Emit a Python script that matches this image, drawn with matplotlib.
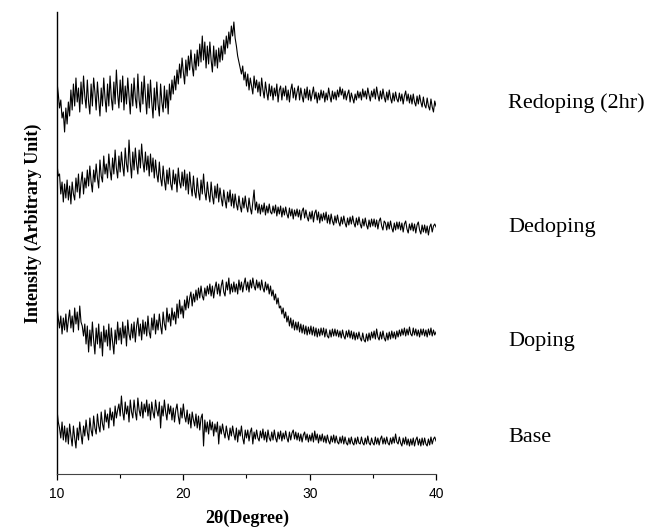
import numpy as np
import matplotlib
matplotlib.use("Agg")
import matplotlib.pyplot as plt
from matplotlib.ticker import MultipleLocator

# 2-theta grid (0.1 degree steps, 10..40)
two_theta = np.linspace(10, 40, 301)

labels = ["Redoping (2hr)", "Dedoping", "Doping", "Base"]

# intensities (arbitrary units, traces already offset as in the figure)
redoping = [
    392, 380, 366, 374, 356, 362, 342, 366, 350, 372,
    358, 384, 364, 390, 368, 396, 372, 386, 362, 392,
    370, 398, 378, 366, 394, 372, 360, 390, 368, 396,
    382, 364, 392, 374, 358, 386, 368, 396, 376, 362,
    390, 368, 398, 376, 364, 392, 370, 404, 380, 366,
    394, 372, 398, 364, 388, 370, 396, 378, 360, 390,
    368, 396, 376, 366, 400, 374, 362, 392, 370, 398,
    378, 360, 390, 366, 394, 372, 356, 386, 364, 392,
    370, 358, 390, 372, 362, 388, 366, 384, 360, 390,
    374, 394, 380, 398, 384, 404, 390, 410, 396, 416,
    402, 390, 414, 398, 418, 404, 424, 408, 398, 420,
    404, 424, 408, 430, 412, 438, 414, 432, 406, 428,
    410, 432, 414, 402, 428, 408, 424, 406, 426, 412,
    428, 414, 434, 420, 438, 426, 442, 430, 448, 438,
    452, 436, 428, 418, 412, 406, 400, 408, 394, 402,
    388, 400, 384, 396, 388, 380, 398, 386, 394, 382,
    392, 378, 396, 384, 376, 392, 382, 374, 390, 378,
    388, 374, 386, 378, 390, 372, 384, 388, 374, 386,
    378, 388, 374, 384, 372, 384, 390, 376, 386, 374,
    382, 388, 374, 386, 378, 372, 385, 376, 387, 374,
    384, 373, 380, 387, 375, 382, 371, 381, 374, 384,
    376, 383, 372, 381, 374, 386, 378, 372, 383, 375,
    382, 374, 384, 377, 387, 379, 385, 375, 383, 374,
    380, 384, 372, 381, 376, 371, 380, 374, 383, 376,
    382, 374, 385, 377, 383, 375, 386, 379, 373, 383,
    377, 385, 375, 387, 379, 373, 383, 375, 385, 377,
    372, 382, 374, 384, 376, 371, 381, 373, 382, 375,
    372, 381, 373, 380, 370, 378, 383, 373, 380, 371,
    379, 370, 380, 372, 368, 378, 370, 379, 372, 367,
    377, 369, 366, 376, 368, 364, 375, 367, 362, 373,
    368,
]

dedoping = [
    310, 298, 300, 280, 292, 272, 290, 276, 294, 274,
    288, 270, 292, 280, 274, 296, 282, 300, 276, 292,
    302, 280, 296, 286, 304, 288, 308, 292, 282, 304,
    292, 310, 296, 286, 314, 298, 292, 318, 300, 310,
    296, 320, 304, 294, 316, 300, 324, 306, 296, 318,
    302, 322, 308, 298, 326, 310, 302, 334, 312, 296,
    322, 304, 326, 310, 300, 324, 306, 330, 312, 302,
    322, 304, 318, 298, 320, 302, 316, 296, 314, 300,
    292, 312, 296, 288, 308, 294, 284, 304, 290, 306,
    290, 284, 304, 290, 300, 282, 306, 292, 286, 302,
    288, 304, 284, 300, 280, 302, 288, 278, 298, 282,
    276, 296, 282, 274, 294, 280, 300, 282, 274, 292,
    280, 272, 292, 278, 270, 288, 276, 290, 272, 286,
    276, 268, 284, 274, 266, 282, 272, 284, 268, 280,
    266, 280, 270, 264, 278, 268, 262, 276, 266, 278,
    268, 262, 276, 266, 260, 272, 284, 264, 272, 261,
    270, 260, 269, 262, 271, 259, 268, 261, 270, 262,
    260, 268, 261, 269, 258, 267, 260, 268, 257, 266,
    259, 267, 260, 256, 266, 258, 265, 255, 264, 258,
    265, 257, 264, 254, 263, 266, 256, 264, 257, 253,
    262, 255, 263, 252, 261, 264, 254, 262, 251, 260,
    253, 261, 254, 262, 251, 259, 250, 260, 253, 249,
    258, 251, 259, 252, 248, 257, 250, 258, 251, 247,
    256, 249, 257, 250, 258, 251, 247, 256, 249, 257,
    250, 246, 255, 248, 256, 249, 245, 254, 247, 255,
    248, 255, 247, 254, 245, 253, 256, 248, 244, 253,
    251, 244, 252, 245, 253, 246, 242, 251, 244, 252,
    245, 252, 244, 251, 242, 250, 253, 245, 241, 250,
    244, 251, 243, 250, 241, 249, 252, 244, 240, 249,
    242, 249, 241, 248, 239, 247, 250, 242, 248, 250,
    247,
]

doping = [
    168, 156, 146, 158, 140, 156, 144, 160, 142, 154,
    164, 146, 158, 142, 166, 150, 162, 144, 168, 152,
    148, 138, 150, 130, 148, 122, 144, 128, 152, 134,
    120, 146, 130, 150, 126, 142, 118, 148, 132, 144,
    128, 150, 124, 146, 132, 120, 144, 130, 152, 134,
    146, 130, 152, 136, 148, 128, 154, 140, 134, 150,
    136, 152, 132, 148, 156, 138, 150, 134, 154, 140,
    152, 138, 158, 142, 136, 156, 144, 160, 140, 154,
    144, 160, 148, 140, 162, 150, 144, 166, 152, 160,
    148, 166, 154, 162, 150, 170, 156, 174, 160, 168,
    156, 174, 164, 178, 166, 176, 182, 168, 180, 172,
    184, 174, 186, 176, 188, 178, 174, 186, 178, 188,
    180, 190, 178, 188, 176, 186, 192, 180, 190, 178,
    188, 194, 182, 178, 192, 184, 196, 180, 190, 182,
    192, 182, 190, 180, 194, 184, 192, 182, 190, 196,
    184, 192, 182, 194, 186, 196, 188, 184, 194, 186,
    192, 184, 194, 186, 182, 192, 184, 190, 180, 188,
    178, 184, 174, 180, 170, 176, 166, 168, 160, 166,
    156, 162, 152, 158, 148, 156, 146, 154, 144, 152,
    144, 152, 142, 150, 141, 149, 140, 148, 139, 147,
    140, 148, 139, 147, 138, 146, 137, 145, 138, 146,
    139, 146, 137, 145, 138, 136, 144, 137, 145, 138,
    145, 138, 144, 137, 143, 136, 144, 138, 135, 143,
    137, 144, 136, 143, 135, 142, 134, 141, 135, 142,
    136, 133, 141, 134, 132, 140, 133, 141, 134, 142,
    136, 143, 135, 145, 137, 134, 142, 135, 143, 136,
    133, 141, 134, 142, 135, 143, 136, 142, 135, 143,
    137, 144, 138, 145, 139, 146, 138, 145, 139, 147,
    140, 138, 146, 139, 145, 138, 144, 137, 145, 139,
    145, 138, 144, 137, 145, 139, 146, 138, 144, 139,
    142,
]

base = [
    64, 52, 46, 36, 52, 34, 48, 32, 46, 30,
    50, 38, 28, 48, 36, 26, 46, 34, 52, 40,
    30, 48, 38, 54, 42, 34, 56, 44, 38, 58,
    46, 40, 60, 48, 42, 62, 50, 44, 64, 52,
    60, 46, 66, 54, 62, 48, 68, 56, 64, 70,
    58, 78, 62, 54, 72, 60, 68, 52, 74, 62,
    56, 74, 62, 54, 76, 64, 58, 72, 56, 70,
    62, 74, 58, 70, 54, 72, 62, 56, 74, 64,
    58, 72, 46, 68, 58, 74, 62, 54, 70, 60,
    68, 54, 66, 52, 64, 70, 58, 50, 66, 56,
    70, 58, 52, 64, 50, 60, 46, 62, 54, 48,
    60, 46, 58, 44, 56, 60, 28, 54, 42, 52,
    40, 54, 44, 52, 38, 50, 42, 52, 30, 48,
    40, 50, 42, 36, 48, 40, 34, 46, 38, 48,
    40, 34, 46, 32, 44, 38, 48, 36, 30, 44,
    36, 44, 33, 42, 46, 30, 42, 35, 44, 36,
    33, 43, 36, 45, 34, 42, 32, 44, 36, 33,
    42, 34, 44, 36, 32, 42, 35, 43, 33, 41,
    35, 43, 36, 32, 42, 34, 41, 44, 35, 42,
    34, 41, 33, 40, 32, 39, 42, 34, 40, 32,
    39, 33, 41, 32, 43, 34, 40, 31, 39, 33,
    40, 32, 38, 31, 39, 33, 30, 38, 32, 39,
    31, 38, 32, 30, 37, 31, 38, 30, 37, 31,
    29, 36, 30, 37, 31, 29, 36, 30, 37, 31,
    30, 37, 31, 29, 36, 30, 38, 31, 29, 36,
    31, 29, 37, 30, 36, 29, 35, 38, 30, 36,
    30, 37, 31, 29, 36, 30, 37, 31, 40, 32,
    30, 37, 31, 28, 36, 30, 37, 29, 35, 28,
    35, 29, 36, 28, 34, 37, 29, 35, 28, 36,
    29, 36, 30, 28, 35, 29, 37, 30, 35, 37,
    33,
]

series = [redoping, dedoping, doping, base]
label_y_px = [108, 232, 346, 442]  # baseline positions of the right-hand labels

W, H = 645, 529
fig = plt.figure(figsize=(W / 100, H / 100), dpi=100)
ax = fig.add_axes([57 / W, 1 - 474 / H, 379 / W, 462 / H])

for ys in series:
    ax.plot(two_theta, ys, color="black", lw=0.8)

ax.set_xlim(10, 40)
ax.set_ylim(0, 462)
ax.xaxis.set_major_locator(MultipleLocator(10))
ax.xaxis.set_minor_locator(MultipleLocator(5))
ax.set_yticks([])
for s in ["top", "right"]:
    ax.spines[s].set_visible(False)
ax.spines["left"].set_linewidth(1.0)
ax.spines["bottom"].set_linewidth(0.8)
ax.spines["bottom"].set_color("#444444")
ax.tick_params(axis="x", which="major", direction="out", length=4, width=0.9,
               labelsize=10, pad=5.5)
ax.tick_params(axis="x", which="minor", direction="out", length=3, width=0.8)
for t in ax.get_xticklabels():
    t.set_family(["Liberation Sans", "DejaVu Sans"])

serif = ["Liberation Serif", "DejaVu Serif"]
fig.text(247 / W, 1 - 518 / H, "2θ(Degree)", family=serif, fontweight="bold",
         fontsize=13, ha="center", va="center")
fig.text(33 / W, 1 - 223 / H, "Intensity (Arbitrary Unit)", family=serif,
         fontweight="bold", fontsize=13, rotation=90, ha="center", va="center")

for lab, yp in zip(labels, label_y_px):
    fig.text(508 / W, 1 - yp / H, lab, family=serif, fontsize=16,
             ha="left", va="baseline")

fig.savefig("out.png", dpi=100)
